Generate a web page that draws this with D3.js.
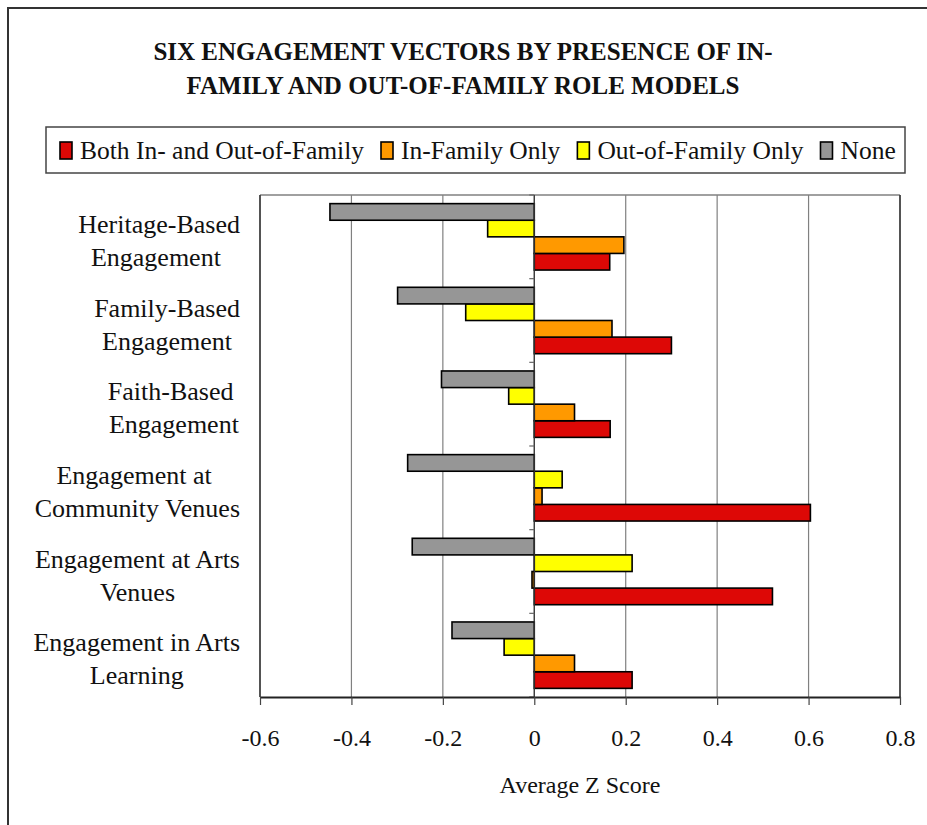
<!DOCTYPE html>
<html>
<head>
<meta charset="utf-8">
<script src="https://cdn.jsdelivr.net/npm/d3@7"></script>
<style>
  body { margin: 0; background: #fff; }
  svg { display: block; }
  text { font-family: "Liberation Serif", "DejaVu Serif", serif; fill: #111; }
</style>
</head>
<body>
<div id="chart"></div>
<script>
// chart size and plot area
const width = 927;
const height = 825;
const margin = {left: 260, right: 27, top: 195, bottom: 128};

// categories, top to bottom (each one is a list of label lines)
const categories = [
  ["Heritage-Based", "Engagement "],
  ["Family-Based", "Engagement"],
  ["Faith-Based ", "Engagement"],
  ["Engagement at ", "Community Venues"],
  ["Engagement at Arts", "Venues"],
  ["Engagement in Arts", "Learning"]
];

// series names, in legend order
const seriesNames = ["Both In- and Out-of-Family", "In-Family Only", "Out-of-Family Only", "None"];
const seriesColors = ["#dd0806", "#ff9900", "#ffff00", "#969696"];

// values, one per category
const bothValues = [0.165, 0.30, 0.166, 0.604, 0.521, 0.214];
const inFamilyValues = [0.196, 0.170, 0.088, 0.017, -0.005, 0.088];
const outFamilyValues = [-0.102, -0.150, -0.056, 0.061, 0.214, -0.066];
const noneValues = [-0.447, -0.299, -0.203, -0.277, -0.267, -0.180];

const xTicks = [-0.6, -0.4, -0.2, 0, 0.2, 0.4, 0.6, 0.8];

const seriesValues = [bothValues, inFamilyValues, outFamilyValues, noneValues];

// build rows for the bars
const rows = [];
categories.forEach((c, ci) => {
  seriesNames.forEach((s, si) => {
    rows.push({cat: ci, series: si, value: seriesValues[si][ci]});
  });
});

const svg = d3.select("#chart")
  .append("svg")
  .attr("width", width)
  .attr("height", height);

// outer frame (only left and top edges show in the picture)
svg.append("path")
  .attr("d", `M8,${height} V8 H${width}`)
  .attr("fill", "none")
  .attr("stroke", "#333")
  .attr("stroke-width", 2);

// title
const title = svg.append("text")
  .attr("text-anchor", "middle")
  .attr("font-weight", "bold")
  .attr("font-size", "25px");
title.append("tspan").attr("x", 463).attr("y", 60).text("SIX ENGAGEMENT VECTORS BY PRESENCE OF IN-");
title.append("tspan").attr("x", 463).attr("y", 94).text("FAMILY AND OUT-OF-FAMILY ROLE MODELS");

// scales
const xScale = d3.scaleLinear()
  .domain([-0.6, 0.8])
  .range([margin.left, width - margin.right]);

const yScale = d3.scaleBand()
  .domain(d3.range(categories.length))
  .range([margin.top, height - margin.bottom]);

// bars inside a category: None on top, Both at the bottom
const ySub = d3.scaleBand()
  .domain([3, 2, 1, 0])
  .range([0, yScale.bandwidth()])
  .paddingOuter(0.52)
  .paddingInner(0);

// gridlines
svg.append("g")
  .selectAll("line")
  .data(xTicks)
  .enter()
  .append("line")
    .attr("x1", d => xScale(d))
    .attr("x2", d => xScale(d))
    .attr("y1", margin.top)
    .attr("y2", height - margin.bottom)
    .attr("stroke", "#808080")
    .attr("stroke-width", 1.2);

// plot area border: gray top, dark left and right
svg.append("line")
  .attr("x1", margin.left).attr("x2", width - margin.right)
  .attr("y1", margin.top).attr("y2", margin.top)
  .attr("stroke", "#808080").attr("stroke-width", 1.5);
svg.append("line")
  .attr("x1", margin.left).attr("x2", margin.left)
  .attr("y1", margin.top).attr("y2", height - margin.bottom)
  .attr("stroke", "#333").attr("stroke-width", 1.5);
svg.append("line")
  .attr("x1", width - margin.right).attr("x2", width - margin.right)
  .attr("y1", margin.top).attr("y2", height - margin.bottom)
  .attr("stroke", "#333").attr("stroke-width", 1.5);

// bars
svg.selectAll(".bar")
  .data(rows)
  .enter()
  .append("rect")
    .attr("class", "bar")
    .attr("x", d => xScale(Math.min(0, d.value)))
    .attr("y", d => yScale(d.cat) + ySub(d.series))
    .attr("width", d => Math.abs(xScale(d.value) - xScale(0)))
    .attr("height", ySub.bandwidth())
    .attr("fill", d => seriesColors[d.series])
    .attr("stroke", "#000")
    .attr("stroke-width", 1.6);

// category axis on zero
const yAxis = svg.append("g")
  .attr("transform", `translate(${xScale(0)},0)`);
yAxis.append("line")
  .attr("y1", margin.top).attr("y2", height - margin.bottom)
  .attr("stroke", "#333").attr("stroke-width", 1.2);
yAxis.selectAll(".ctick")
  .data(d3.range(categories.length + 1))
  .enter()
  .append("line")
    .attr("class", "ctick")
    .attr("x1", -5).attr("x2", 0)
    .attr("y1", i => margin.top + i * yScale.bandwidth())
    .attr("y2", i => margin.top + i * yScale.bandwidth())
    .attr("stroke", "#666").attr("stroke-width", 1.2);

// value axis at bottom (plain hyphen for negatives)
const xAxis = svg.append("g")
  .attr("transform", `translate(0,${height - margin.bottom})`)
  .call(d3.axisBottom(xScale)
          .tickValues(xTicks)
          .tickFormat(d => String(+d.toFixed(1)))
          .tickSize(8)
          .tickSizeOuter(0)
          .tickPadding(24))
  .attr("font-size", "24px");
xAxis.select(".domain").attr("stroke", "#222").attr("stroke-width", 2);
xAxis.selectAll(".tick line").attr("stroke", "#444").attr("stroke-width", 1.2);
xAxis.selectAll("text")
  .attr("font-family", "Liberation Serif, serif")
  .attr("fill", "#111");

// axis title
svg.append("text")
  .attr("x", (margin.left + width - margin.right) / 2)
  .attr("y", 793)
  .attr("text-anchor", "middle")
  .attr("font-size", "24px")
  .text("Average Z Score");

// category labels: lines centred to each other, block right-aligned at 240
categories.forEach((lines, ci) => {
  const cy = yScale(ci) + yScale.bandwidth() / 2;
  const t = svg.append("text")
    .attr("font-size", "26px")
    .attr("text-anchor", "middle")
    .style("white-space", "pre");
  const spans = lines.map((ln, li) =>
    t.append("tspan").attr("y", cy - 4 + li * 33).text(ln));
  const maxW = d3.max(spans, s => s.node().getComputedTextLength());
  spans.forEach(s => s.attr("x", 240 - maxW / 2));
});

// legend
const legend = svg.append("g");
legend.append("rect")
  .attr("x", 46).attr("y", 127)
  .attr("width", 859).attr("height", 46)
  .attr("fill", "#fff")
  .attr("stroke", "#444").attr("stroke-width", 1.5);

let lx = 60;
seriesNames.forEach((name, i) => {
  legend.append("rect")
    .attr("x", lx).attr("y", 142)
    .attr("width", 12).attr("height", 17)
    .attr("fill", seriesColors[i])
    .attr("stroke", "#000").attr("stroke-width", 1.6);
  const t = legend.append("text")
    .attr("x", lx + 20).attr("y", 159)
    .attr("font-size", "25.5px")
    .text(name);
  lx += 20 + t.node().getComputedTextLength() + 17;
});
</script>
</body>
</html>
